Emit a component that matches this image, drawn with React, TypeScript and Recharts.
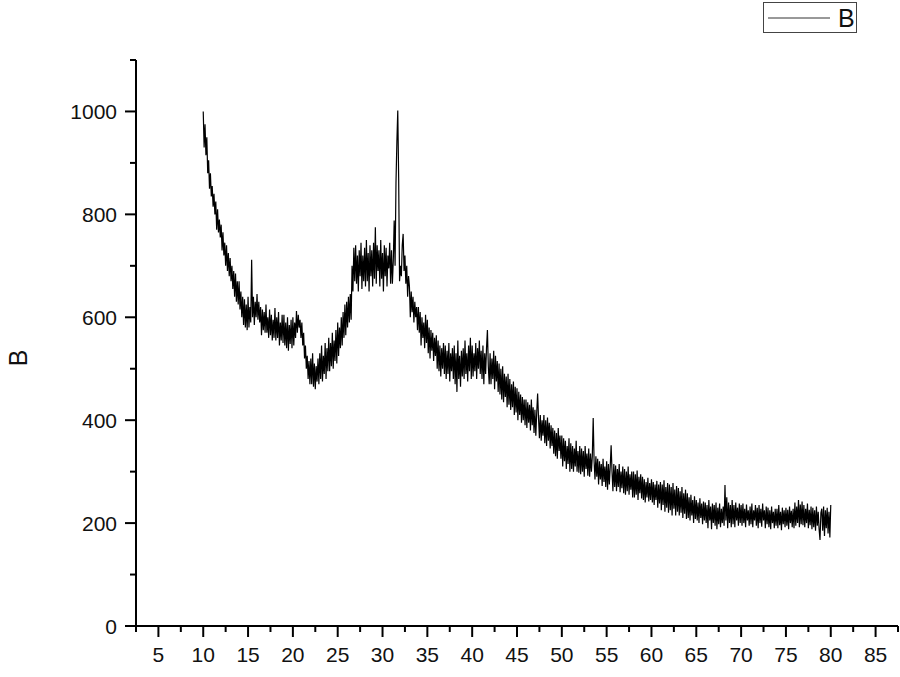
import React from 'react';
import { LineChart, Line, XAxis, YAxis, Legend } from 'recharts';

const seriesName = 'B';
const angleStart = 10;
const angleStep = 0.1;

// intensity values, one row per degree (10.0 .. 80.0 step 0.1)
const intensity: number[] = [
  1000, 930, 975, 915, 950, 880, 905, 850, 880, 835,
  855, 815, 840, 800, 825, 770, 810, 765, 790, 755,
  780, 730, 765, 720, 745, 700, 740, 690, 725, 680,
  715, 670, 700, 655, 690, 640, 685, 630, 670, 625,
  670, 615, 650, 600, 640, 585, 635, 580, 625, 575,
  640, 580, 620, 590, 712, 600, 640, 585, 630, 600,
  645, 595, 630, 590, 620, 565, 615, 575, 610, 570,
  625, 570, 600, 560, 615, 565, 605, 555, 595, 560,
  618, 555, 600, 560, 610, 545, 590, 555, 605, 550,
  605, 545, 590, 540, 600, 535, 585, 548, 595, 540,
  600, 545, 590, 560, 612, 570, 605, 580, 595, 560,
  590, 545, 570, 520, 545, 500, 525, 480, 515, 470,
  520, 470, 530, 465, 510, 460, 505, 475, 520, 470,
  530, 480, 545, 475, 525, 490, 550, 480, 540, 495,
  560, 495, 550, 505, 570, 500, 555, 515, 575, 510,
  590, 525, 580, 540, 600, 545, 610, 560, 625, 565,
  630, 580, 640, 590, 645, 595, 700, 650, 735, 670,
  740, 665, 720, 650, 730, 680, 745, 655, 720, 670,
  735, 660, 750, 670, 725, 650, 740, 680, 730, 660,
  745, 675, 775, 665, 740, 690, 730, 660, 750, 675,
  725, 650, 740, 680, 735, 660, 720, 695, 745, 665,
  730, 665, 710, 788, 700, 860, 940, 1002, 870, 670,
  700, 680, 740, 762, 690, 720, 665, 700, 640, 680,
  660, 600, 650, 610, 640, 590, 630, 600, 620, 575,
  620, 570, 610, 545, 600, 560, 590, 540, 605, 550,
  595, 530, 580, 520, 575, 535, 570, 515, 560, 525,
  565, 500, 555, 495, 545, 485, 540, 500, 550, 490,
  545, 480, 535, 490, 550, 475, 530, 495, 540, 480,
  545, 470, 530, 455, 555, 480, 525, 465, 535, 485,
  540, 480, 555, 490, 530, 475, 545, 495, 560, 480,
  545, 485, 530, 495, 550, 480, 540, 500, 555, 490,
  535, 480, 545, 470, 530, 490, 540, 575, 505, 470,
  530, 470, 520, 480, 535, 460, 525, 475, 515, 455,
  510, 450, 500, 440, 505, 435, 490, 445, 485, 425,
  490, 430, 480, 420, 470, 425, 475, 410, 465, 415,
  462, 400, 455, 410, 450, 395, 445, 400, 440, 390,
  440, 385, 435, 395, 430, 380, 440, 390, 425, 375,
  420, 370, 415, 452, 405, 365, 410, 360, 400, 370,
  410, 355, 400, 350, 405, 360, 395, 345, 390, 350,
  385, 335, 380, 330, 375, 325, 385, 340, 370, 325,
  370, 310, 365, 320, 360, 305, 350, 315, 365, 300,
  355, 305, 350, 300, 345, 310, 360, 300, 340, 298,
  350, 295, 345, 300, 340, 290, 350, 305, 335, 292,
  345, 290, 335, 300, 330, 404, 320, 285, 330, 290,
  325, 275, 320, 285, 315, 272, 325, 280, 310, 270,
  320, 265, 315, 275, 310, 351, 300, 262, 315, 270,
  312, 262, 305, 270, 315, 260, 300, 268, 310, 258,
  305, 255, 300, 262, 310, 255, 295, 265, 300, 250,
  300, 250, 295, 255, 302, 245, 290, 258, 295, 248,
  290, 245, 285, 240, 280, 250, 288, 242, 278, 245,
  285, 240, 280, 235, 275, 245, 282, 230, 275, 238,
  280, 225, 275, 235, 283, 222, 270, 230, 278, 220,
  275, 225, 270, 215, 278, 228, 265, 215, 272, 222,
  268, 215, 262, 220, 270, 210, 258, 218, 265, 208,
  258, 210, 250, 205, 255, 215, 245, 200, 252, 208,
  245, 205, 240, 200, 248, 210, 238, 198, 242, 205,
  240, 200, 235, 190, 245, 205, 232, 188, 238, 200,
  235, 195, 240, 188, 230, 198, 238, 192, 228, 200,
  232, 195, 274, 205, 250, 190, 240, 200, 235, 192,
  245, 198, 235, 192, 240, 205, 230, 195, 238, 200,
  235, 195, 238, 200, 228, 192, 236, 205, 225, 195,
  232, 198, 238, 192, 225, 205, 235, 195, 230, 190,
  235, 200, 228, 193, 238, 205, 225, 190, 232, 198,
  230, 192, 225, 188, 232, 200, 222, 190, 228, 195,
  228, 190, 235, 196, 222, 186, 230, 198, 225, 192,
  230, 195, 226, 188, 232, 200, 224, 192, 228, 190,
  240, 195, 232, 200, 245, 192, 236, 198, 242, 196,
  235, 192, 228, 200, 238, 190, 226, 196, 232, 188,
  230, 192, 225, 185, 232, 195, 222, 188, 167, 220,
  228, 185, 232, 175, 225, 190, 230, 180, 222, 172,
  235,
];

const xTicks = [2.5, 5, 7.5, 10, 12.5, 15, 17.5, 20, 22.5, 25, 27.5, 30, 32.5, 35, 37.5, 40, 42.5, 45, 47.5, 50, 52.5, 55, 57.5, 60, 62.5, 65, 67.5, 70, 72.5, 75, 77.5, 80, 82.5, 85, 87.5];
const xLabelled = [5, 10, 15, 20, 25, 30, 35, 40, 45, 50, 55, 60, 65, 70, 75, 80, 85];
const yTicks = [0, 100, 200, 300, 400, 500, 600, 700, 800, 900, 1000, 1100];
const yLabelled = [0, 200, 400, 600, 800, 1000];

const data = intensity.map((v, i) => ({ angle: +(angleStart + i * angleStep).toFixed(1), B: v }));

const TICK_SIZE = 11;
const TICK_MARGIN = 5;
const FONT = '"Liberation Sans", Arial, sans-serif';

const YTick = (props: any) => {
  const { x, y, payload } = props;
  const v = payload.value;
  const major = yLabelled.includes(v);
  const axisX = x + TICK_SIZE + TICK_MARGIN;
  return (
    <g>
      <line x1={axisX - (major ? 11 : 6)} x2={axisX} y1={y} y2={y} stroke="#000" strokeWidth={2} />
      {major && (
        <text x={axisX - 19} y={y} textAnchor="end" dominantBaseline="central" fontFamily={FONT} fontSize={21} fill="#111">
          {v}
        </text>
      )}
    </g>
  );
};

const XTick = (props: any) => {
  const { x, y, payload } = props;
  const v = payload.value;
  const major = xLabelled.includes(v);
  const axisY = y - TICK_SIZE - TICK_MARGIN;
  return (
    <g>
      <line x1={x} x2={x} y1={axisY} y2={axisY + (major ? 11 : 6)} stroke="#000" strokeWidth={2} />
      {major && (
        <text x={x} y={axisY + 36} textAnchor="middle" fontFamily={FONT} fontSize={21} fill="#111">
          {v}
        </text>
      )}
    </g>
  );
};

const YLabel = (props: any) => {
  const vb = props.viewBox;
  const cx = vb.x + 18;
  const cy = vb.y + vb.height / 2 + 15;
  return (
    <text x={cx} y={cy} transform={`rotate(-90, ${cx}, ${cy})`} textAnchor="middle" dominantBaseline="central" fontFamily={FONT} fontSize={25} fill="#111">
      {seriesName}
    </text>
  );
};

const LegendBox = () => (
  <div style={{ width: 92, height: 29, border: '1px solid #444', boxSizing: 'content-box', position: 'relative', background: '#fff' }}>
    <svg width={92} height={29} style={{ position: 'absolute', left: 0, top: 0 }}>
      <line x1={4} x2={66} y1={15} y2={15} stroke="#333" strokeWidth={1} />
      <text x={74} y={24} fontFamily={FONT} fontSize={25} fill="#111">{seriesName}</text>
    </svg>
  </div>
);

export default function App() {
  return (
    <div style={{ position: 'absolute', left: 0, top: 0, width: 900, height: 677, background: '#fff' }}>
      <LineChart width={900} height={677} data={data} margin={{ top: 60, right: 2, bottom: 0, left: 0 }}>
        <XAxis
          dataKey="angle"
          type="number"
          domain={[2.5, 87.5]}
          ticks={xTicks}
          interval={0}
          height={51}
          tickSize={TICK_SIZE}
          tickMargin={TICK_MARGIN}
          tickLine={false}
          tick={<XTick />}
          axisLine={{ stroke: '#000', strokeWidth: 2 }}
          allowDataOverflow
        />
        <YAxis
          type="number"
          domain={[0, 1100]}
          ticks={yTicks}
          interval={0}
          width={136}
          tickSize={TICK_SIZE}
          tickMargin={TICK_MARGIN}
          tickLine={false}
          tick={<YTick />}
          axisLine={{ stroke: '#000', strokeWidth: 2 }}
          label={{ content: <YLabel /> }}
          allowDataOverflow
        />
        <Legend
          layout="horizontal"
          verticalAlign="middle"
          align="center"
          content={<LegendBox />}
          wrapperStyle={{ position: 'absolute', left: 763, top: 2, width: 'auto', height: 'auto' }}
        />
        <Line
          dataKey="B"
          name={seriesName}
          stroke="#000"
          strokeWidth={1.2}
          dot={false}
          isAnimationActive={false}
        />
      </LineChart>
    </div>
  );
}
